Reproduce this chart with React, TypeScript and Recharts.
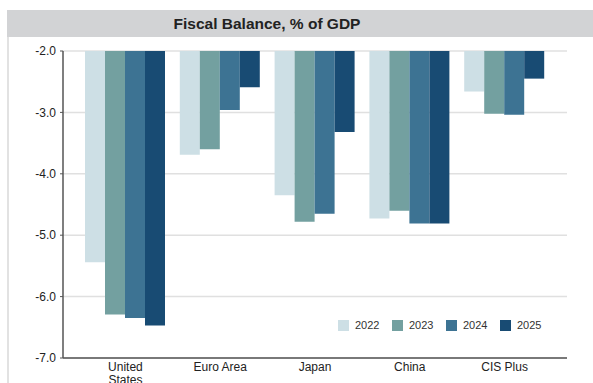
import React from "react";
import { BarChart, Bar, XAxis, YAxis, CartesianGrid, Legend, Text } from "recharts";

const categories = ["United States", "Euro Area", "Japan", "China", "CIS Plus"];
const years = ["2022", "2023", "2024", "2025"];
const v2022 = [-5.44, -3.69, -4.35, -4.73, -2.66];
const v2023 = [-6.29, -3.6, -4.78, -4.6, -3.02];
const v2024 = [-6.35, -2.96, -4.65, -4.81, -3.04];
const v2025 = [-6.47, -2.59, -3.32, -4.81, -2.45];
const yTicks = [-2, -3, -4, -5, -6, -7];
const colors = ["#cddfe5", "#73a0a0", "#3d7393", "#184b73"];

const series = [v2022, v2023, v2024, v2025];
const data = categories.map((c, i) => {
  const row: Record<string, any> = { name: c };
  years.forEach((y, k) => {
    row[y] = series[k][i];
  });
  return row;
});

const FONT = "Arial, 'Liberation Sans', sans-serif";

const XTick = (props: any) => {
  const { x, y, payload } = props;
  return (
    <Text
      x={x}
      y={y}
      width={69}
      textAnchor="middle"
      verticalAnchor="start"
      lineHeight="1.15em"
      fontSize={12}
      fontFamily={FONT}
      fill="#222"
    >
      {payload.value}
    </Text>
  );
};

const LegendContent = () => (
  <div style={{ display: "flex", fontFamily: FONT, fontSize: 11, color: "#333" }}>
    {years.map((y, k) => (
      <div key={y} style={{ display: "flex", alignItems: "center", width: 54 }}>
        <div style={{ width: 11, height: 11, background: colors[k], marginRight: 6 }} />
        <span>{y}</span>
      </div>
    ))}
  </div>
);

export default function App() {
  return (
    <div style={{ position: "absolute", left: 0, top: 0, width: 593, height: 383, background: "#fff", overflow: "hidden" }}>
      <div
        style={{
          position: "absolute",
          left: 7,
          top: 10,
          width: 586,
          height: 27,
          background: "#d2d3d5",
        }}
      />
      <div
        style={{
          position: "absolute",
          left: 7,
          top: 37,
          width: 2,
          height: 346,
          background: "#e2e2e2",
        }}
      />
      <div
        style={{
          position: "absolute",
          left: 117,
          top: 10,
          width: 300,
          height: 27,
          lineHeight: "27px",
          textAlign: "center",
          fontFamily: FONT,
          fontWeight: "bold",
          fontSize: 15.5,
          color: "#222",
        }}
      >
        Fiscal Balance, % of GDP
      </div>
      <div style={{ position: "absolute", left: 0, top: 0 }}>
        <BarChart
          width={593}
          height={383}
          data={data}
          margin={{ top: 51, right: 26, bottom: 0, left: 8 }}
          barGap={0}
          barSize={20}
        >
          <CartesianGrid vertical={false} stroke="#e0e0e0" strokeWidth={1.5} />
          <XAxis
            dataKey="name"
            height={25}
            tickLine={false}
            tickSize={0}
            tickMargin={4}
            stroke="#555"
            axisLine={{ stroke: "#555", strokeWidth: 1.5 }}
            padding={{ left: 15, right: 15 }}
            interval={0}
            tick={<XTick />}
          />
          <YAxis
            width={55}
            domain={[-7, -2]}
            ticks={yTicks}
            tickFormatter={(v: number) => v.toFixed(1)}
            tickSize={3}
            tickMargin={4}
            axisLine={{ stroke: "#555", strokeWidth: 1.5 }}
            tickLine={{ stroke: "#555" }}
            tick={{ fontSize: 12, fontFamily: FONT, fill: "#222" }}
            allowDataOverflow
          />
          <Legend
            layout="horizontal"
            verticalAlign="middle"
            align="center"
            content={<LegendContent />}
            wrapperStyle={{ position: "absolute", left: 338, top: 319, width: 230, right: "auto", bottom: "auto" }}
          />
          {years.map((y, k) => (
            <Bar key={y} dataKey={y} fill={colors[k]} isAnimationActive={false} />
          ))}
        </BarChart>
      </div>
    </div>
  );
}
